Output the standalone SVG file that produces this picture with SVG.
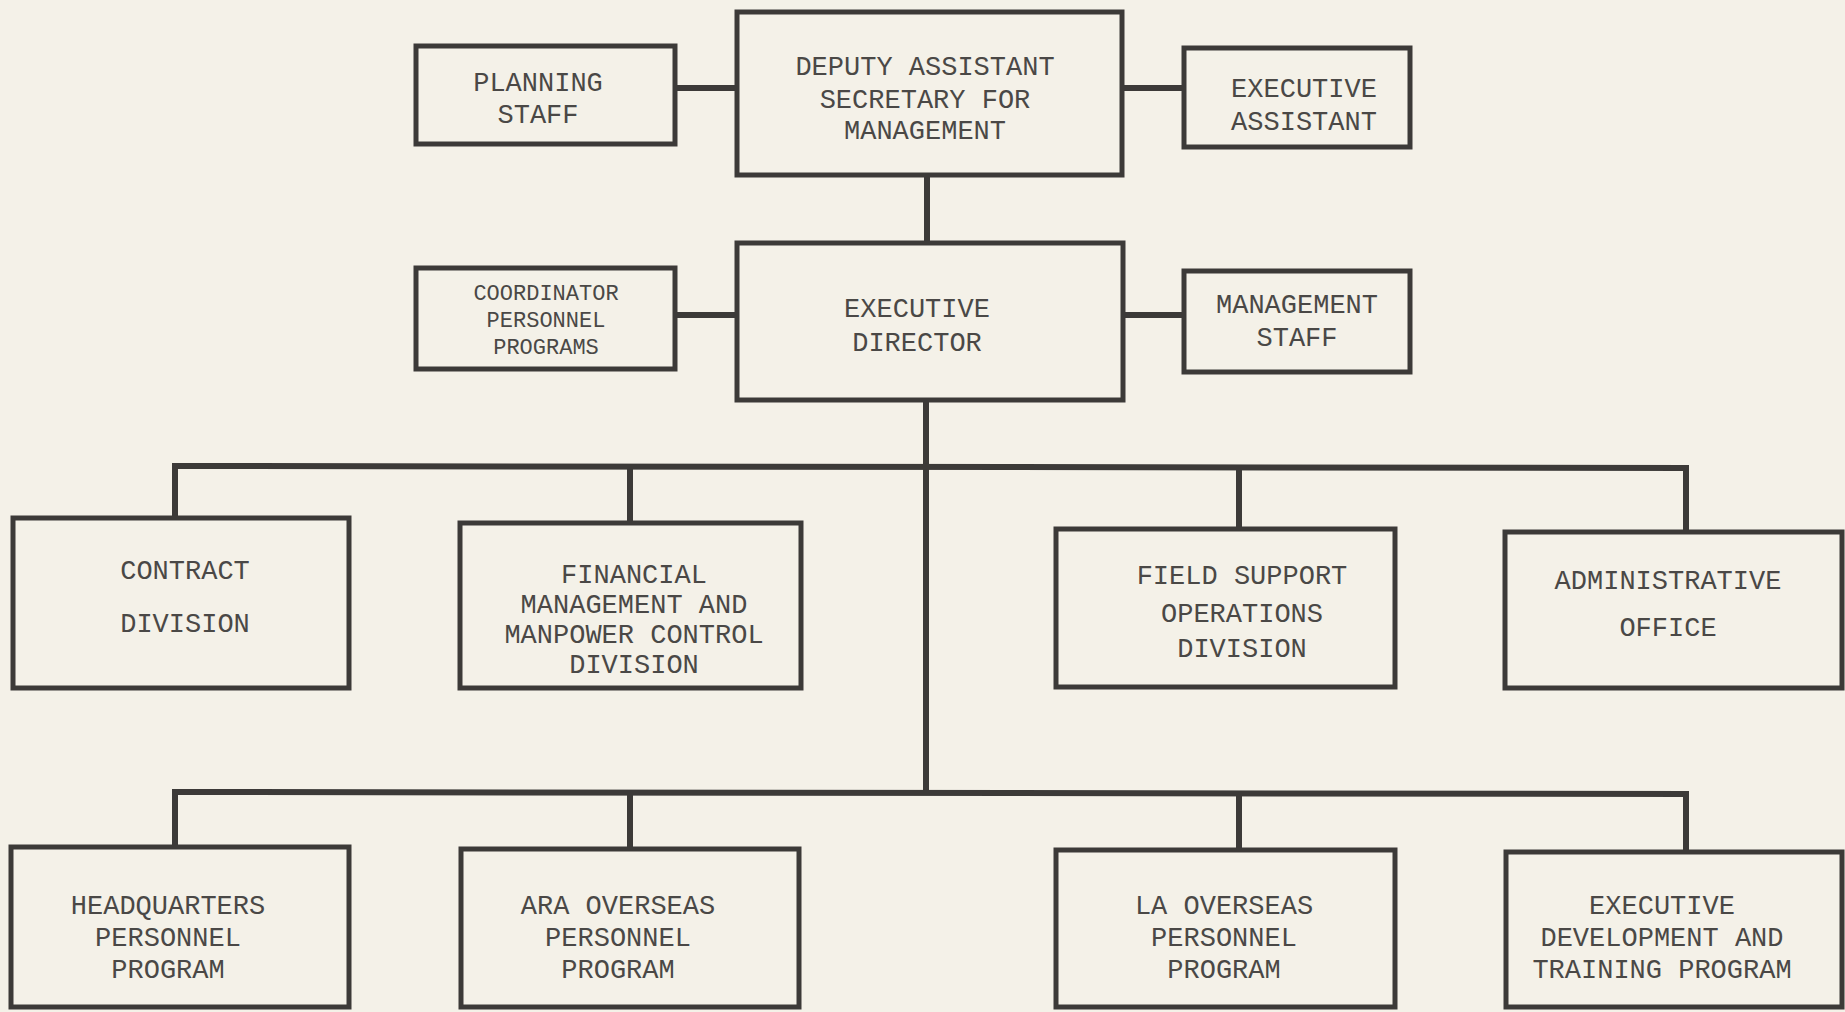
<svg xmlns="http://www.w3.org/2000/svg" width="1845" height="1012" viewBox="0 0 1845 1012">
<style>
.box{fill:#f4f1e8;stroke:#3c3a38;stroke-width:5}
.con{stroke:#3c3a38;stroke-width:6;fill:none}
text{font-family:"Liberation Mono","DejaVu Sans Mono",monospace;font-size:27px;fill:#4a4846;text-anchor:middle}
.sm{font-size:22px}
</style>
<rect width="1845" height="1012" fill="#f4f1e8"/>
<g id="connectors">
<line class="con" x1="675" y1="88" x2="737" y2="88"/>
<line class="con" x1="1122" y1="88" x2="1184" y2="88"/>
<line class="con" x1="927" y1="175" x2="927" y2="243"/>
<line class="con" x1="675" y1="315" x2="737" y2="315"/>
<line class="con" x1="1123" y1="315" x2="1184" y2="315"/>
<line class="con" x1="926" y1="400" x2="926" y2="792"/>
<polyline class="con" points="175,518 175,466 1686,468 1686,532"/>
<line class="con" x1="630" y1="466" x2="630" y2="523"/>
<line class="con" x1="1239" y1="467" x2="1239" y2="529"/>
<polyline class="con" points="175,847 175,792 1686,794 1686,852"/>
<line class="con" x1="630" y1="792" x2="630" y2="849"/>
<line class="con" x1="1239" y1="793" x2="1239" y2="850"/>
</g>
<g id="deputy"><rect class="box" x="737" y="12" width="385" height="163"/>
<text x="925" y="75">DEPUTY ASSISTANT</text><text x="925" y="108">SECRETARY  FOR</text><text x="925" y="139">MANAGEMENT</text></g>
<g id="planning"><rect class="box" x="416" y="46" width="259" height="98"/>
<text x="538" y="91">PLANNING</text><text x="538" y="123">STAFF</text></g>
<g id="exec-assistant"><rect class="box" x="1184" y="48" width="226" height="99"/>
<text x="1304" y="97">EXECUTIVE</text><text x="1304" y="130">ASSISTANT</text></g>
<g id="exec-director"><rect class="box" x="737" y="243" width="386" height="157"/>
<text x="917" y="317">EXECUTIVE</text><text x="917" y="351">DIRECTOR</text></g>
<g id="coordinator"><rect class="box" x="416" y="268" width="259" height="101"/>
<text class="sm" x="546" y="300">COORDINATOR</text><text class="sm" x="546" y="327">PERSONNEL</text><text class="sm" x="546" y="354">PROGRAMS</text></g>
<g id="mgmt-staff"><rect class="box" x="1184" y="271" width="226" height="101"/>
<text x="1297" y="313">MANAGEMENT</text><text x="1297" y="346">STAFF</text></g>
<g id="contract"><rect class="box" x="13" y="518" width="336" height="170"/>
<text x="185" y="579">CONTRACT</text><text x="185" y="632">DIVISION</text></g>
<g id="financial"><rect class="box" x="460" y="523" width="341" height="165"/>
<text x="634" y="583">FINANCIAL</text><text x="634" y="613">MANAGEMENT AND</text><text x="634" y="643">MANPOWER CONTROL</text><text x="634" y="673">DIVISION</text></g>
<g id="field-support"><rect class="box" x="1056" y="529" width="339" height="158"/>
<text x="1242" y="584">FIELD SUPPORT</text><text x="1242" y="622">OPERATIONS</text><text x="1242" y="657">DIVISION</text></g>
<g id="administrative"><rect class="box" x="1505" y="532" width="337" height="156"/>
<text x="1668" y="589">ADMINISTRATIVE</text><text x="1668" y="636">OFFICE</text></g>
<g id="headquarters"><rect class="box" x="11" y="847" width="338" height="160"/>
<text x="168" y="914">HEADQUARTERS</text><text x="168" y="946">PERSONNEL</text><text x="168" y="978">PROGRAM</text></g>
<g id="ara"><rect class="box" x="461" y="849" width="338" height="158"/>
<text x="618" y="914">ARA OVERSEAS</text><text x="618" y="946">PERSONNEL</text><text x="618" y="978">PROGRAM</text></g>
<g id="la"><rect class="box" x="1056" y="850" width="339" height="157"/>
<text x="1224" y="914">LA OVERSEAS</text><text x="1224" y="946">PERSONNEL</text><text x="1224" y="978">PROGRAM</text></g>
<g id="exec-dev"><rect class="box" x="1506" y="852" width="336" height="155"/>
<text x="1662" y="914">EXECUTIVE</text><text x="1662" y="946">DEVELOPMENT AND</text><text x="1662" y="978">TRAINING PROGRAM</text></g>
</svg>
